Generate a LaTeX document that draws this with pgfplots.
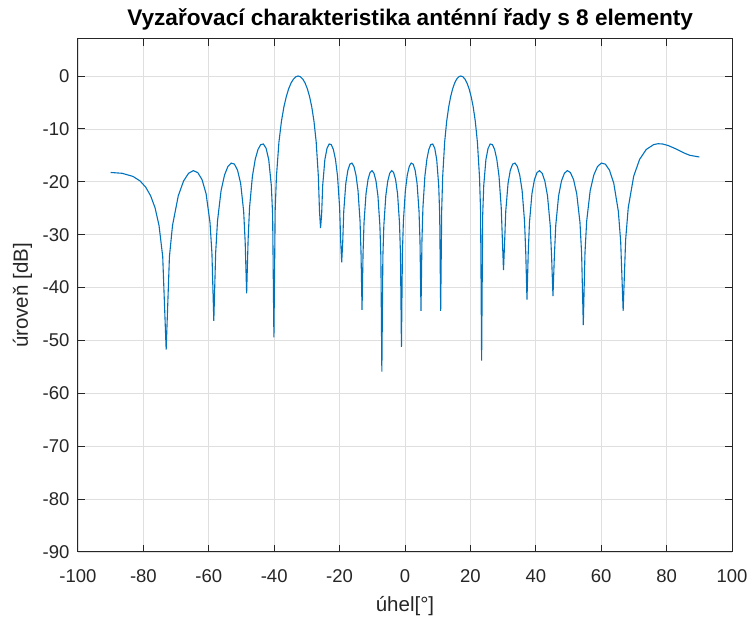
\documentclass[border=0pt]{standalone}
\usepackage{fontspec}
\setmainfont{Liberation Sans}
\usepackage{pgfplots}
\pgfplotsset{compat=1.18}
\usetikzlibrary{calc}
\definecolor{mblue}{RGB}{0,114,189}
\definecolor{axgray}{RGB}{38,38,38}
\definecolor{gridc}{RGB}{223,223,223}
\begin{document}
\begin{tikzpicture}
\begin{axis}[
  name=ax,
  scale only axis,
  width=654pt, height=513pt,
  xmin=-100, xmax=100, ymin=-90, ymax=7,
  xtick={-100,-80,...,100},
  ytick={-90,-80,...,0},
  xticklabels={-100,-80,-60,-40,-20,0,20,40,60,80,100},
  yticklabels={-90,-80,-70,-60,-50,-40,-30,-20,-10,0},
  grid=major,
  major grid style={gridc, line width=0.8pt},
  axis line style={axgray, line width=1pt},
  tick style={axgray, line width=1pt},
  tick align=inside,
  major tick length=7pt,
  ticklabel style={font=\fontsize{18.5}{22}\selectfont, text=axgray},
  xticklabel style={yshift=-14pt},
  yticklabel style={xshift=-5pt},
  xlabel={úhel[°]}, ylabel={úroveň [dB]},
  label style={font=\fontsize{20.5}{24}\selectfont, text=axgray},
  title={Vyzařovací charakteristika anténní řady s 8 elementy},
  title style={font=\fontsize{22.6}{26}\selectfont\bfseries, text=black, at={(axis description cs:0.508,1.027)}, anchor=center},
  xlabel style={at={(axis description cs:0.5,-0.105)}, anchor=center},
  ylabel style={at={(axis description cs:-0.085,0.5)}, anchor=center},
]
\addplot[mblue, line width=1.1pt] coordinates {
(-90.00,-18.24) (-86.53,-18.39) (-83.20,-18.98) (-81.02,-19.84) (-79.28,-21.03) (-77.78,-22.66) (-76.44,-24.91) (-75.22,-28.26) (-74.09,-34.17) (-73.04,-51.75)
(-72.04,-34.17) (-71.10,-28.26) (-69.34,-22.66) (-67.71,-19.84) (-66.18,-18.39) (-64.74,-17.89) (-63.38,-18.26) (-62.08,-19.57) (-60.83,-22.25) (-59.63,-27.71) (-59.04,-33.55) (-58.47,-46.3)
(-57.90,-33.41) (-57.34,-27.43) (-56.25,-21.68) (-55.19,-18.72) (-54.16,-17.11) (-53.15,-16.46) (-52.17,-16.66) (-51.21,-17.80) (-50.26,-20.30) (-49.34,-25.58) (-48.88,-31.33) (-48.43,-41.1)
(-47.98,-30.99) (-47.54,-24.90) (-46.66,-18.93) (-45.80,-15.74) (-44.95,-13.88) (-44.11,-12.96) (-43.29,-12.86) (-42.47,-13.68) (-41.67,-15.82) (-40.88,-20.70) (-40.48,-26.23) (-40.09,-49.4)
(-39.70,-25.41) (-39.32,-19.05) (-38.55,-12.48) (-37.79,-8.58) (-37.04,-5.86) (-36.29,-3.87) (-35.56,-2.38) (-34.83,-1.31) (-34.10,-0.57) (-33.38,-0.14) (-32.67,0) (-31.97,-0.14) (-31.27,-0.57) (-30.57,-1.31) (-29.88,-2.38) (-29.19,-3.87) (-28.51,-5.86) (-27.83,-8.58) (-27.16,-12.48) (-26.49,-19.05) (-26.16,-25.41) (-25.83,-28.75)
(-25.50,-26.23) (-25.17,-20.70) (-24.51,-15.82) (-23.85,-13.68) (-23.20,-12.86) (-22.56,-12.96) (-21.91,-13.88) (-21.27,-15.74) (-20.63,-18.93) (-19.99,-24.90) (-19.68,-30.99) (-19.36,-35.25)
(-19.04,-31.33) (-18.73,-25.58) (-18.10,-20.30) (-17.47,-17.80) (-16.85,-16.66) (-16.23,-16.46) (-15.61,-17.11) (-14.99,-18.72) (-14.37,-21.68) (-13.75,-27.43) (-13.45,-33.41) (-13.14,-44.2)
(-12.83,-33.55) (-12.53,-27.71) (-11.92,-22.25) (-11.31,-19.57) (-10.70,-18.26) (-10.09,-17.89) (-9.49,-18.39) (-8.88,-19.84) (-8.28,-22.66) (-7.68,-28.26) (-7.38,-34.17) (-7.08,-55.9)
(-6.77,-34.17) (-6.47,-28.26) (-5.87,-22.66) (-5.27,-19.84) (-4.67,-18.39) (-4.08,-17.89) (-3.48,-18.26) (-2.88,-19.57) (-2.28,-22.25) (-1.69,-27.71) (-1.39,-33.55) (-1.09,-51.2)
(-0.79,-33.41) (-0.49,-27.43) (0.11,-21.68) (0.70,-18.72) (1.30,-17.11) (1.90,-16.46) (2.49,-16.66) (3.09,-17.80) (3.69,-20.30) (4.29,-25.58) (4.59,-31.33) (4.89,-44.4)
(5.19,-30.99) (5.48,-24.90) (6.08,-18.93) (6.69,-15.74) (7.29,-13.88) (7.89,-12.96) (8.49,-12.86) (9.10,-13.68) (9.70,-15.82) (10.31,-20.70) (10.61,-26.23) (10.91,-44.4)
(11.22,-25.41) (11.52,-19.05) (12.13,-12.48) (12.74,-8.58) (13.36,-5.86) (13.97,-3.87) (14.59,-2.38) (15.20,-1.31) (15.82,-0.57) (16.44,-0.14) (17.07,0) (17.69,-0.14) (18.32,-0.57) (18.95,-1.31) (19.58,-2.38) (20.22,-3.87) (20.86,-5.86) (21.50,-8.58) (22.14,-12.48) (22.78,-19.05) (23.11,-25.41) (23.43,-53.8)
(23.76,-26.23) (24.08,-20.70) (24.74,-15.82) (25.40,-13.68) (26.06,-12.86) (26.73,-12.96) (27.40,-13.88) (28.07,-15.74) (28.75,-18.93) (29.43,-24.90) (29.78,-30.99) (30.12,-36.7)
(30.47,-31.33) (30.81,-25.58) (31.51,-20.30) (32.21,-17.80) (32.92,-16.66) (33.64,-16.46) (34.36,-17.11) (35.08,-18.72) (35.82,-21.68) (36.55,-27.43) (36.93,-33.41) (37.30,-42.3)
(37.68,-33.55) (38.06,-27.71) (38.82,-22.25) (39.59,-19.57) (40.37,-18.26) (41.15,-17.89) (41.95,-18.39) (42.76,-19.84) (43.58,-22.66) (44.41,-28.26) (44.83,-34.17) (45.25,-41.6)
(45.67,-34.17) (46.10,-28.26) (46.97,-22.66) (47.85,-19.84) (48.75,-18.39) (49.66,-17.89) (50.59,-18.26) (51.54,-19.57) (52.51,-22.25) (53.51,-27.71) (54.01,-33.55) (54.52,-47.1)
(55.04,-33.41) (55.56,-27.43) (56.63,-21.68) (57.74,-18.72) (58.87,-17.11) (60.05,-16.46) (61.26,-16.66) (62.53,-17.80) (63.85,-20.30) (65.24,-25.58) (65.96,-31.33) (66.71,-44.4)
(67.47,-30.99) (68.27,-24.90) (69.94,-18.93) (71.76,-15.74) (73.78,-13.88) (76.07,-12.96) (77.37,-12.80) (78.81,-12.86) (80.47,-13.14) (82.49,-13.68) (85.29,-14.54) (87.09,-14.99) (90.00,-15.31)
};
\end{axis}
\pgfresetboundingbox
\path ($(ax.south west)+(-78pt,-67pt)$) rectangle ($(ax.north east)+(17pt,39pt)$);
\end{tikzpicture}
\end{document}
